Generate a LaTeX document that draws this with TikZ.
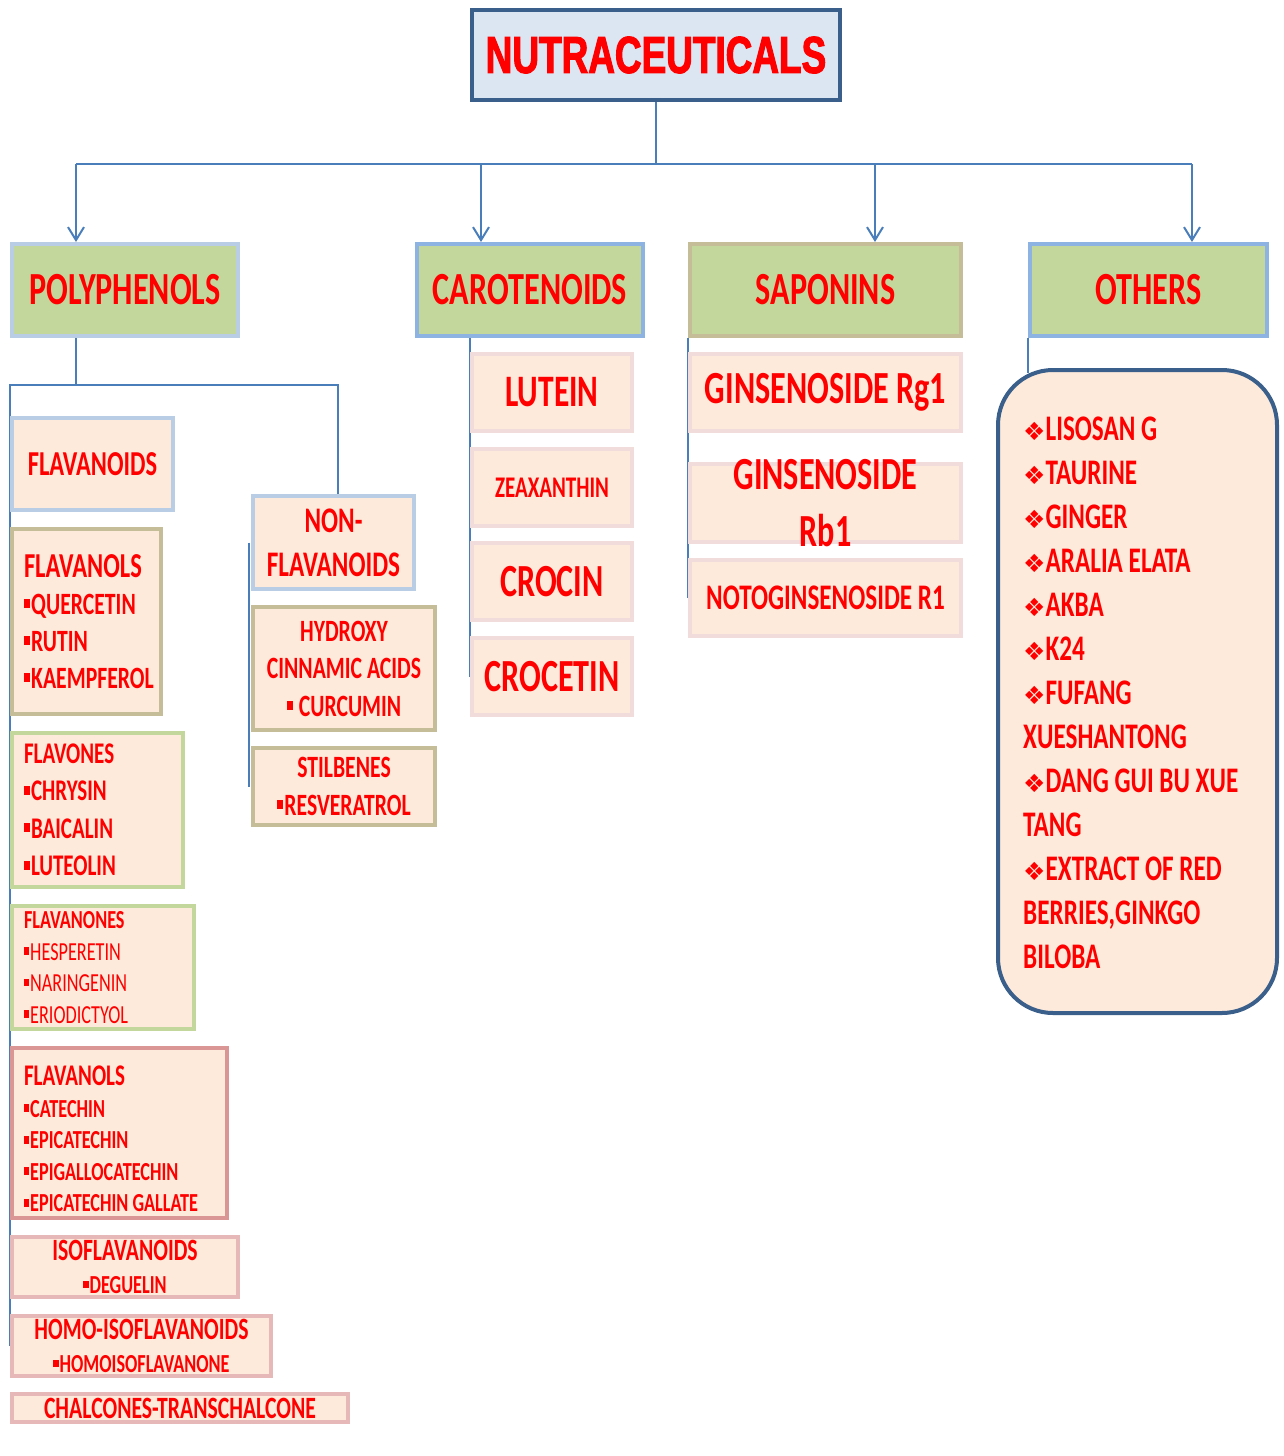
\documentclass[tikz,border=0pt]{standalone}
\usepackage{fontspec}
\usepackage{xcolor}
\usetikzlibrary{arrows.meta,calc,backgrounds}
\newfontfamily\calfont[FakeStretch=0.7]{Carlito}
\newfontfamily\titlefont[FakeStretch=0.71,FakeBold=2]{Liberation Sans}
\newfontfamily\symfont{DejaVu Sans}
\definecolor{txtred}{HTML}{FF0000}
\definecolor{titlefill}{HTML}{DCE6F2}
\definecolor{titleblue}{HTML}{3A5F8B}
\definecolor{connblue}{HTML}{4A7EBB}
\definecolor{catgreen}{HTML}{C3D69B}
\definecolor{peach}{HTML}{FDEADA}
\definecolor{bdsky}{HTML}{B9CDE5}
\definecolor{bdblue}{HTML}{8DB3E2}
\definecolor{bdtan}{HTML}{C4BD97}
\definecolor{bdgreen}{HTML}{C3D69B}
\definecolor{bdrose}{HTML}{D99694}
\definecolor{bdpink}{HTML}{E6B9B8}
\definecolor{bdpale}{HTML}{F2DCDB}
\newcommand{\fsz}[2]{\fontsize{#1}{#2}\selectfont}
\newcommand{\sqb}{\rule[0.2em]{0.2em}{0.3em}\kern1pt}
\newcommand{\dia}{{\symfont\fontsize{25}{25}\selectfont ❖}}
\tikzset{
  conn/.style={draw=connblue, line width=2pt},
  arr/.style={conn, -{Straight Barb[length=13pt,width=16pt]}},
  fnt/.style 2 args={font=\calfont\bfseries\fontsize{#1}{#2}\selectfont},
  basebox/.style={draw, line width=4pt, fill=peach, text=txtred, inner sep=0pt, align=center},
  catbox/.style={basebox, fill=catgreen, minimum height=92pt, fnt={46}{50}},
  subbox/.style 2 args={basebox, minimum width=#1, minimum height=#2},
}
\begin{document}
\begin{tikzpicture}[x=1pt, y=-1pt]
  \useasboundingbox (0,0) rectangle (1283,1456);

  % top
  \node[basebox, draw=titleblue, fill=titlefill, minimum width=368pt, minimum height=90pt,
        font=\titlefont\bfseries\fsz{52}{56}] (title) at (656,55) {NUTRACEUTICALS};

  % categories
  \node[catbox, draw=bdsky, minimum width=226pt] (poly) at (125,290) {POLYPHENOLS};
  \node[catbox, draw=bdblue, minimum width=226pt] (caro) at (530,290) {CAROTENOIDS};
  \node[catbox, draw=bdtan, minimum width=271pt] (sapo) at (825.5,290) {SAPONINS};
  \node[catbox, draw=bdblue, minimum width=237pt] (oth) at (1148.5,290) {OTHERS};

  \coordinate (b1) at (76,164);
  \coordinate (b2) at (481,164);
  \coordinate (b3) at (875,164);
  \coordinate (b4) at (1192,164);
  \draw[conn] (title.south) -- (title.south |- b1);
  \draw[conn] (b1) -- (b4);
  \foreach \b/\n in {b1/poly, b2/caro, b3/sapo, b4/oth}
    \draw[arr] (\b) -- (\b |- \n.north);

  % polyphenols
  \node[subbox={161pt}{92pt}, draw=bdsky, fnt={35}{42}] (fla) at (92.5,464) {FLAVANOIDS};
  \node[subbox={149pt}{185pt}, draw=bdtan, fnt={31}{37}, text width=125pt, align=flush left] (flvl1) at (86.5,621.5)
    {{\fsz{35}{40}FLAVANOLS}\\ \sqb QUERCETIN\\ \sqb RUTIN\\ \sqb KAEMPFEROL};
  \node[subbox={171pt}{154pt}, draw=bdgreen, fnt={30}{37.5}, text width=147pt, align=flush left] (flvn) at (97.5,810)
    {FLAVONES\\ \sqb CHRYSIN\\ \sqb BAICALIN\\ \sqb LUTEOLIN};
  \node[subbox={182pt}{123pt}, draw=bdgreen, font=\calfont\fsz{26}{31.5}, text width=158pt, align=flush left] (flvnn) at (103,967.5)
    {{\bfseries FLAVANONES}\\ \sqb HESPERETIN\\ \sqb NARINGENIN\\ \sqb ERIODICTYOL};
  \node[subbox={215pt}{170pt}, draw=bdrose] (flvl2) at (119.5,1133) {};
  \node[text=txtred, inner sep=0pt, fnt={26}{31.5}, text width=191pt, align=flush left] (flvl2t) at ([yshift=-6pt]flvl2.center)
    {{\fsz{30}{34}FLAVANOLS}\\ \sqb CATECHIN\\ \sqb EPICATECHIN\\ \sqb EPIGALLOCATECHIN\\ \sqb EPICATECHIN GALLATE};
  \node[subbox={226pt}{60pt}, draw=bdpink, fnt={31}{33}] (iso) at (125,1267)
    {ISOFLAVANOIDS\\ {\fsz{26}{33}\sqb DEGUELIN}};
  \node[subbox={259pt}{60pt}, draw=bdpink, fnt={31}{33}] (homo) at (141.5,1346)
    {HOMO-ISOFLAVANOIDS\\ {\fsz{26}{33}\sqb HOMOISOFLAVANONE}};
  \node[subbox={336pt}{28pt}, draw=bdpink, fnt={31}{33}] (chal) at (180,1408) {CHALCONES-TRANSCHALCONE};

  \node[subbox={161pt}{93pt}, draw=bdsky, fnt={36}{44}] (nonfla) at (333.5,542.5) {NON-\\FLAVANOIDS};
  \node[subbox={182pt}{123pt}, draw=bdtan, fnt={31}{37.5}] (hydro) at (344,668.5)
    {HYDROXY\\ CINNAMIC ACIDS\\ \sqb\ CURCUMIN};
  \node[subbox={182pt}{77pt}, draw=bdtan, fnt={31}{38}] (stil) at (344,786.5) {STILBENES\\ \sqb RESVERATROL};

  \coordinate (p1) at (76,385);
  \coordinate (pl) at (10,385);
  \coordinate (pr) at (338,385);
  \draw[conn] (poly.south -| p1) -- (p1);
  \begin{scope}[on background layer]
    \draw[conn] (pl |- homo.center) -- (pl) -- (pr) -- (pr |- nonfla.north);
    \draw[conn] ([xshift=-2pt]nonfla.west) -- ([xshift=-2pt]stil.west);
  \end{scope}

  % carotenoids
  \node[subbox={160pt}{77pt}, draw=bdpale, fnt={45}{50}] (lut) at (552,392.5) {LUTEIN};
  \node[subbox={160pt}{77pt}, draw=bdpale, fnt={30}{34}] (zea) at (552,487.5) {ZEAXANTHIN};
  \node[subbox={160pt}{77pt}, draw=bdpale, fnt={46}{50}] (cro) at (552,581.5) {CROCIN};
  \node[subbox={160pt}{77pt}, draw=bdpale, fnt={46}{50}] (crt) at (552,676.5) {CROCETIN};
  \begin{scope}[on background layer]
    \draw[conn] (caro.south -| lut.west) -- (crt.west);
  \end{scope}

  % saponins
  \node[subbox={271pt}{77pt}, draw=bdpale, fnt={46}{50}] (rg1) at (825.5,392.5) {GINSENOSIDE Rg1};
  \node[subbox={271pt}{78pt}, draw=bdpale] (rb1) at (825.5,503) {};
  \node[text=txtred, inner sep=0pt, align=center, fnt={46}{57}] (rb1t) at (rb1.center) {GINSENOSIDE\\Rb1};
  \node[subbox={271pt}{76pt}, draw=bdpale, fnt={36}{42}] (noto) at (825.5,598) {NOTOGINSENOSIDE R1};
  \begin{scope}[on background layer]
    \draw[conn] (sapo.south -| rg1.west) -- (noto.west);
  \end{scope}

  % others
  \node[basebox, draw=titleblue, rounded corners=55pt, minimum width=279pt, minimum height=643pt] (othlist) at (1137.5,691.5) {};
  \node[anchor=west, text=txtred, inner sep=0pt, align=flush left, fnt={36}{44}] (othtxt) at (1023,693)
    {\dia LISOSAN G\\ \dia TAURINE\\ \dia GINGER\\ \dia ARALIA ELATA\\ \dia AKBA\\ \dia K24\\
     \dia FUFANG\\ XUESHANTONG\\ \dia DANG GUI BU XUE\\ TANG\\ \dia EXTRACT OF RED\\
     BERRIES,GINKGO\\ BILOBA};
  \draw[conn] (oth.south west) -- ($(oth.south west |- othlist.north)+(0,5)$);
\end{tikzpicture}
\end{document}
